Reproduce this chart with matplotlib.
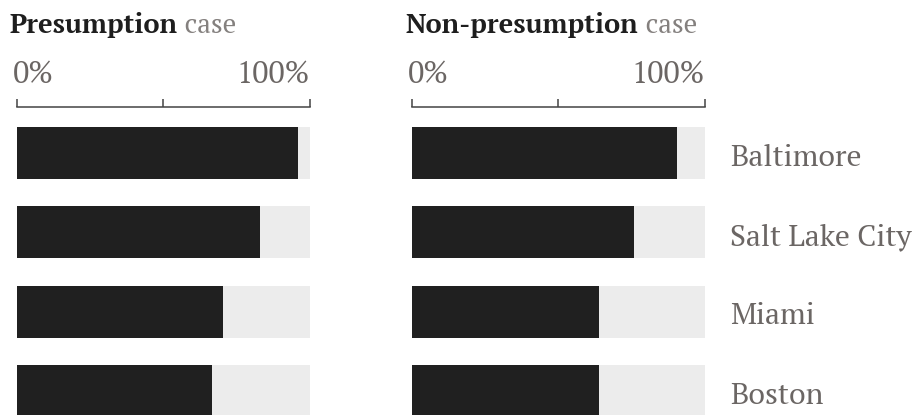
import matplotlib
matplotlib.use("Agg")
import matplotlib.pyplot as plt
import matplotlib.text as mtext

cities = ["Baltimore", "Salt Lake City", "Miami", "Boston"]
presumption = [96, 83, 70.5, 66.7]
non_presumption = [90.5, 76, 64, 64]
panel_titles = ["Presumption", "Non-presumption"]
tick_values = [0, 50, 100]
tick_labels = ["0%", "", "100%"]

FONT = ["PT Serif", "DejaVu Serif"]
plt.rcParams["font.family"] = FONT

W, H = 919, 415
fig = plt.figure(figsize=(W / 100, H / 100), dpi=100)

BLACK = "#202020"
GREY_BG = "#ececec"
TEXT_GREY = "#6b6664"
AXIS_COL = "#444444"

pitch = 79.3
center0 = 153.0
axis_top_px = 107.3
y_top = (axis_top_px - center0) / pitch
y_bot = (H - center0) / pitch
bar_h = 52 / pitch

panels = [(16.7, 309.7, presumption, 10), (412.0, 704.5, non_presumption, 406)]
for k, (x0, x1, vals, title_x) in enumerate(panels):
    ax = fig.add_axes([x0 / W, 0, (x1 - x0) / W, (H - axis_top_px) / H])
    ypos = list(range(len(cities)))
    ax.barh(ypos, [100] * len(cities), height=bar_h, color=GREY_BG, linewidth=0)
    ax.barh(ypos, vals, height=bar_h, color=BLACK, linewidth=0)
    ax.set_xlim(0, 100)
    ax.set_ylim(y_bot, y_top)
    for s in ["left", "right", "bottom"]:
        ax.spines[s].set_visible(False)
    ax.spines["top"].set_color(AXIS_COL)
    ax.spines["top"].set_linewidth(1.1)
    ax.set_yticks([])
    ax.xaxis.tick_top()
    ax.set_xticks(tick_values, [""] * len(tick_values))
    ax.tick_params(axis="x", direction="out", length=5.8, width=1.1, color=AXIS_COL)

    # tick labels drawn as text, baseline 24 px above the axis line
    offsets = {0: (-4, "left"), 100: (0.5, "right")}
    for v, lab in zip(tick_values, tick_labels):
        if not lab:
            continue
        dx, ha = offsets[v]
        ax.annotate(lab, xy=(v, 1), xycoords=("data", "axes fraction"),
                    xytext=(dx, 24), textcoords="offset pixels",
                    fontsize=22, color=TEXT_GREY, ha=ha, va="baseline",
                    annotation_clip=False)

    t1 = fig.text(title_x / W, 1 - 32.7 / H, panel_titles[k], fontsize=19.5,
                  fontweight="bold", color="#1e1e1e", ha="left", va="baseline")
    fig.add_artist(mtext.Annotation(
        " case", xy=(1, 0), xycoords=t1, xytext=(0, 0), textcoords="offset points",
        fontsize=19.5, color="#84807e", ha="left", va="bottom"))

    if k == 1:
        for i, c in enumerate(cities):
            ax.annotate(c, xy=(1, i), xycoords=("axes fraction", "data"),
                        xytext=(26, -12.7), textcoords="offset pixels",
                        fontsize=21.5, color=TEXT_GREY, ha="left", va="baseline",
                        annotation_clip=False)

fig.savefig("out.png", dpi=100)
